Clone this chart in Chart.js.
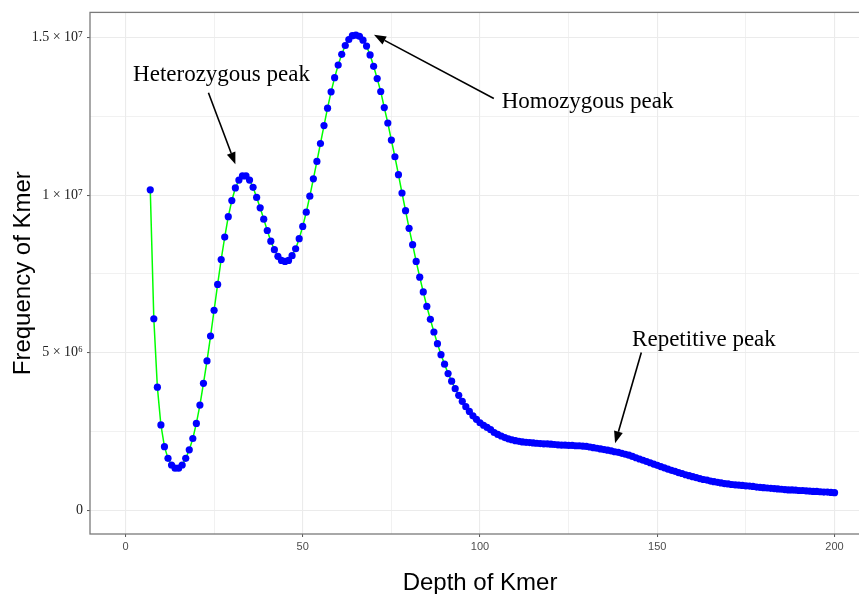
<!DOCTYPE html>
<html>
<head>
<meta charset="utf-8">
<script src="https://cdn.jsdelivr.net/npm/chart.js@4.4.1/dist/chart.umd.min.js"></script>
<style>
  html, body { margin: 0; padding: 0; background: #fff; overflow: hidden; }
  #wrap { width: 874px; height: 594px; }
</style>
</head>
<body>
<div id="wrap"><canvas id="kmerChart" width="874" height="594"></canvas></div>
<script>
  // k-mer depth (x) and frequency in millions (y)
  const depth = [
    7, 8, 9, 10, 11, 12, 13, 14, 15, 16, 17, 18, 19, 20, 21, 22, 23, 24, 25, 26,
    27, 28, 29, 30, 31, 32, 33, 34, 35, 36, 37, 38, 39, 40, 41, 42, 43, 44, 45, 46,
    47, 48, 49, 50, 51, 52, 53, 54, 55, 56, 57, 58, 59, 60, 61, 62, 63, 64, 65, 66,
    67, 68, 69, 70, 71, 72, 73, 74, 75, 76, 77, 78, 79, 80, 81, 82, 83, 84, 85, 86,
    87, 88, 89, 90, 91, 92, 93, 94, 95, 96, 97, 98, 99, 100, 101, 102, 103, 104, 105, 106,
    107, 108, 109, 110, 111, 112, 113, 114, 115, 116, 117, 118, 119, 120, 121, 122, 123, 124, 125, 126,
    127, 128, 129, 130, 131, 132, 133, 134, 135, 136, 137, 138, 139, 140, 141, 142, 143, 144, 145, 146,
    147, 148, 149, 150, 151, 152, 153, 154, 155, 156, 157, 158, 159, 160, 161, 162, 163, 164, 165, 166,
    167, 168, 169, 170, 171, 172, 173, 174, 175, 176, 177, 178, 179, 180, 181, 182, 183, 184, 185, 186,
    187, 188, 189, 190, 191, 192, 193, 194, 195, 196, 197, 198, 199, 200
  ];
  const frequencyM = [
    10.17, 6.08, 3.91, 2.71, 2.02, 1.65, 1.44, 1.34, 1.34, 1.44, 1.65, 1.92, 2.28, 2.76, 3.34, 4.03, 4.74, 5.53, 6.35, 7.17,
    7.96, 8.67, 9.32, 9.83, 10.23, 10.48, 10.61, 10.61, 10.48, 10.25, 9.93, 9.60, 9.24, 8.88, 8.54, 8.27, 8.06, 7.93, 7.90, 7.93,
    8.08, 8.30, 8.62, 9.01, 9.46, 9.97, 10.52, 11.07, 11.64, 12.21, 12.76, 13.28, 13.73, 14.13, 14.47, 14.75, 14.94, 15.06, 15.08, 15.04,
    14.92, 14.73, 14.45, 14.09, 13.70, 13.29, 12.78, 12.29, 11.75, 11.22, 10.65, 10.07, 9.51, 8.95, 8.43, 7.90, 7.40, 6.93, 6.47, 6.06,
    5.66, 5.29, 4.94, 4.64, 4.34, 4.10, 3.86, 3.65, 3.46, 3.29, 3.14, 3.00, 2.89, 2.78, 2.70, 2.63, 2.56, 2.47, 2.41, 2.36,
    2.31, 2.27, 2.24, 2.21, 2.19, 2.17, 2.16, 2.15, 2.14, 2.13, 2.12, 2.11, 2.11, 2.10, 2.09, 2.08, 2.07, 2.07, 2.06, 2.06,
    2.05, 2.05, 2.04, 2.03, 2.01, 1.99, 1.97, 1.95, 1.93, 1.91, 1.89, 1.86, 1.84, 1.81, 1.78, 1.75, 1.71, 1.67, 1.63, 1.59,
    1.55, 1.51, 1.47, 1.43, 1.39, 1.35, 1.31, 1.27, 1.24, 1.20, 1.17, 1.13, 1.10, 1.07, 1.04, 1.01, 0.98, 0.96, 0.93, 0.91,
    0.89, 0.87, 0.85, 0.84, 0.82, 0.81, 0.80, 0.79, 0.78, 0.77, 0.76, 0.74, 0.73, 0.72, 0.71, 0.70, 0.69, 0.68, 0.67, 0.66,
    0.65, 0.65, 0.64, 0.63, 0.63, 0.62, 0.61, 0.60, 0.60, 0.59, 0.58, 0.58, 0.57, 0.56
  ];
  const xTicks = [0, 25, 50, 75, 100, 125, 150, 175, 200];
  const xMajor = [0, 50, 100, 150, 200];
  const yTicks = [0, 2.5e6, 5e6, 7.5e6, 1e7, 1.25e7, 1.5e7];
  const yLabels = { 0: '0', 5000000: '5 × 10⁶', 10000000: '1 × 10⁷', 15000000: '1.5 × 10⁷' };

  // peak labels: text anchor and arrow (start -> tip) in data units
  const peaks = [
    { text: 'Heterozygous peak', tx: 27.1, ty: 13.83e6, align: 'center', from: [23.4, 13.25e6], to: [31.0, 10.98e6] },
    { text: 'Homozygous peak', tx: 106.1, ty: 12.95e6, align: 'left', from: [103.9, 13.07e6], to: [70.1, 15.09e6] },
    { text: 'Repetitive peak', tx: 142.9, ty: 5.42e6, align: 'left', from: [145.5, 5.01e6], to: [138.1, 2.13e6] }
  ];

  const points = depth.map((d, i) => ({ x: d, y: frequencyM[i] * 1e6 }));

  const isMajorY = v => v % 5e6 === 0;
  const isMajorX = v => xMajor.includes(v);

  const panelAndNotes = {
    id: 'panelAndNotes',
    afterDraw(chart) {
      const { ctx, chartArea: a, scales: { x, y } } = chart;
      ctx.save();
      ctx.strokeStyle = '#7a7a7a';
      ctx.lineWidth = 1.3;
      ctx.strokeRect(a.left, a.top, a.right - a.left, a.bottom - a.top);

      ctx.fillStyle = '#000';
      ctx.strokeStyle = '#000';
      ctx.font = '23px "Liberation Serif", "Times New Roman", serif';
      ctx.textBaseline = 'middle';
      peaks.forEach(p => {
        ctx.textAlign = p.align;
        ctx.fillText(p.text, x.getPixelForValue(p.tx), y.getPixelForValue(p.ty));
        const x0 = x.getPixelForValue(p.from[0]), y0 = y.getPixelForValue(p.from[1]);
        const x1 = x.getPixelForValue(p.to[0]), y1 = y.getPixelForValue(p.to[1]);
        const ang = Math.atan2(y1 - y0, x1 - x0);
        const hl = 12, hw = 4.5;
        const bx = x1 - hl * Math.cos(ang), by = y1 - hl * Math.sin(ang);
        ctx.lineWidth = 1.6;
        ctx.beginPath();
        ctx.moveTo(x0, y0);
        ctx.lineTo(bx, by);
        ctx.stroke();
        ctx.beginPath();
        ctx.moveTo(x1, y1);
        ctx.lineTo(bx + hw * Math.sin(ang), by - hw * Math.cos(ang));
        ctx.lineTo(bx - hw * Math.sin(ang), by + hw * Math.cos(ang));
        ctx.closePath();
        ctx.fill();
      });
      ctx.restore();
    }
  };

  new Chart(document.getElementById('kmerChart'), {
    type: 'line',
    data: {
      datasets: [{
        data: points,
        borderColor: '#00ff00',
        borderWidth: 1.5,
        tension: 0,
        pointRadius: 3.6,
        pointBorderWidth: 0,
        pointBackgroundColor: '#0000ff',
        pointBorderColor: '#0000ff'
      }]
    },
    options: {
      responsive: false,
      animation: false,
      layout: { padding: { top: 10.7, right: 1.4, left: 0, bottom: 0 } },
      plugins: { legend: { display: false }, tooltip: { enabled: false } },
      scales: {
        x: {
          type: 'linear',
          min: -10,
          max: 210,
          afterFit: s => { s.height = 60; },
          afterBuildTicks: s => { s.ticks = xTicks.map(v => ({ value: v })); },
          grid: {
            color: '#ebebeb',
            lineWidth: c => isMajorX(c.tick.value) ? 1.1 : 0.7,
            tickColor: c => isMajorX(c.tick.value) ? '#555' : 'rgba(0,0,0,0)',
            tickLength: 3,
            tickWidth: 1
          },
          border: { display: false },
          ticks: {
            autoSkip: false,
            maxRotation: 0,
            padding: 3,
            color: '#4d4d4d',
            font: { family: '"Liberation Sans Narrow", "Liberation Sans", Arial, sans-serif', size: 11 },
            callback: v => isMajorX(v) ? String(v) : ''
          },
          title: {
            display: true,
            text: 'Depth of Kmer',
            color: '#000',
            font: { family: '"Liberation Sans", Arial, sans-serif', size: 24, lineHeight: 0.9 },
            padding: 0
          }
        },
        y: {
          type: 'linear',
          min: -0.75e6,
          max: 15.8e6,
          afterFit: s => { s.width = 90; },
          afterBuildTicks: s => { s.ticks = yTicks.map(v => ({ value: v })); },
          grid: {
            color: '#ebebeb',
            lineWidth: c => isMajorY(c.tick.value) ? 1.1 : 0.7,
            tickColor: c => isMajorY(c.tick.value) ? '#555' : 'rgba(0,0,0,0)',
            tickLength: 3,
            tickWidth: 1
          },
          border: { display: false },
          ticks: {
            autoSkip: false,
            padding: 4,
            color: '#222',
            font: { family: '"Liberation Serif", "Times New Roman", serif', size: 14 },
            callback: v => yLabels[v] || ''
          },
          title: {
            display: true,
            text: 'Frequency of Kmer',
            color: '#000',
            font: { family: '"Liberation Sans", Arial, sans-serif', size: 24, lineHeight: 0.9 },
            padding: { top: 13, bottom: 0 }
          }
        }
      }
    },
    plugins: [panelAndNotes]
  });
</script>
</body>
</html>
